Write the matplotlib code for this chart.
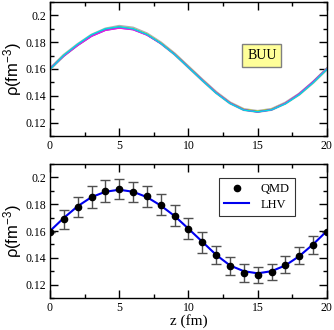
import matplotlib
matplotlib.use('Agg')
import matplotlib.pyplot as plt
from matplotlib.ticker import MultipleLocator
from matplotlib.lines import Line2D

plt.rcParams['mathtext.fontset'] = 'custom'
plt.rcParams['mathtext.rm'] = 'Liberation Sans'
plt.rcParams['mathtext.it'] = 'Liberation Sans'

# data
z = list(range(0, 21))

# BUU runs (top panel), several nearly overlapping curves
buu_gray    = [0.1600, 0.1702, 0.1782, 0.1852, 0.1898, 0.1918, 0.1905, 0.1862, 0.1795, 0.1712, 0.1615, 0.1518, 0.1425, 0.1347, 0.1297, 0.1283, 0.1298, 0.1345, 0.1412, 0.1500, 0.1600]
buu_cyan    = [0.1598, 0.1703, 0.1785, 0.1856, 0.1900, 0.1915, 0.1900, 0.1858, 0.1792, 0.1708, 0.1612, 0.1515, 0.1420, 0.1343, 0.1293, 0.1280, 0.1295, 0.1340, 0.1408, 0.1497, 0.1598]
buu_green   = [0.1602, 0.1700, 0.1780, 0.1850, 0.1895, 0.1912, 0.1898, 0.1857, 0.1791, 0.1710, 0.1614, 0.1517, 0.1423, 0.1346, 0.1296, 0.1282, 0.1297, 0.1343, 0.1410, 0.1500, 0.1603]
buu_yellow  = [0.1600, 0.1701, 0.1781, 0.1851, 0.1896, 0.1913, 0.1900, 0.1859, 0.1794, 0.1712, 0.1616, 0.1519, 0.1424, 0.1347, 0.1298, 0.1284, 0.1299, 0.1344, 0.1411, 0.1499, 0.1600]
buu_magenta = [0.1604, 0.1698, 0.1776, 0.1844, 0.1888, 0.1905, 0.1893, 0.1853, 0.1790, 0.1709, 0.1614, 0.1518, 0.1424, 0.1346, 0.1295, 0.1280, 0.1296, 0.1344, 0.1413, 0.1503, 0.1602]
buu_purple  = [0.1602, 0.1697, 0.1777, 0.1845, 0.1889, 0.1906, 0.1894, 0.1854, 0.1791, 0.1710, 0.1613, 0.1516, 0.1422, 0.1345, 0.1294, 0.1279, 0.1295, 0.1343, 0.1414, 0.1504, 0.1601]

# QMD points with error bars (bottom panel)
qmd     = [0.159, 0.1686, 0.1779, 0.1853, 0.1900, 0.1914, 0.1894, 0.1858, 0.1796, 0.1715, 0.1617, 0.1516, 0.1420, 0.1339, 0.1288, 0.1270, 0.1293, 0.1347, 0.1415, 0.1496, 0.159]
qmd_err = [0.0, 0.0071, 0.0076, 0.0080, 0.0080, 0.0073, 0.0075, 0.0078, 0.0078, 0.0079, 0.0080, 0.0078, 0.0070, 0.0068, 0.0065, 0.0060, 0.0061, 0.0064, 0.0063, 0.0069, 0.0]

# LHV curve
lhv = [0.1600, 0.1698, 0.1785, 0.1853, 0.1893, 0.1908, 0.1893, 0.1853, 0.1790, 0.1712, 0.1617, 0.1520, 0.1422, 0.1343, 0.1300, 0.1284, 0.1300, 0.1343, 0.1412, 0.1500, 0.1600]

serif = 'Liberation Serif'

fig = plt.figure(figsize=(3.34, 3.30), dpi=100)
ax1 = fig.add_axes([0.1497, 0.588, 0.829, 0.406])
ax2 = fig.add_axes([0.1497, 0.097, 0.829, 0.406])

ax1.plot(z, buu_gray, color='#b0b0b0', lw=2.2)
ax1.plot(z, buu_yellow, color='#e8e800', lw=1.0)
ax1.plot(z, buu_green, color='#30c030', lw=1.0)
ax1.plot(z, buu_purple, color='#8a2be2', lw=1.0)
ax1.plot(z, buu_magenta, color='#e020e0', lw=1.0)
ax1.plot(z, buu_cyan, color='#00d8e8', lw=1.0)
ax1.text(15.3, 0.1703, 'BUU', fontfamily=serif, fontsize=10, ha='center', va='center',
         bbox=dict(boxstyle='square,pad=0.35', fc='#ffff99', ec='#808080', lw=1.0))

ax2.errorbar(z, qmd, yerr=qmd_err, fmt='o', color='black', ms=4.5,
             ecolor='#505050', elinewidth=1.0, capsize=3.3, capthick=1.0)
ax2.plot(z, lhv, color='#0000ee', lw=1.5)
handles = [Line2D([], [], ls='none', marker='o', color='black', ms=4.5),
           Line2D([], [], color='#0000ee', lw=1.5)]
leg = ax2.legend(handles, ['QMD', 'LHV'], loc='upper left', bbox_to_anchor=(0.612, 0.895),
                 prop={'family': serif, 'size': 9},
                 frameon=True, fancybox=False, edgecolor='black', handlelength=2.0,
                 borderpad=0.4, labelspacing=0.3, handletextpad=0.9, borderaxespad=0)
leg.get_frame().set_linewidth(0.8)

for ax in (ax1, ax2):
    ax.set_xlim(0, 20)
    ax.set_ylim(0.11, 0.21)
    ax.xaxis.set_major_locator(MultipleLocator(5))
    ax.xaxis.set_minor_locator(MultipleLocator(2.5))
    ax.yaxis.set_major_locator(MultipleLocator(0.02))
    ax.yaxis.set_minor_locator(MultipleLocator(0.01))
    ax.set_yticks([0.12, 0.14, 0.16, 0.18, 0.2])
    ax.set_yticklabels(['0.12', '0.14', '0.16', '0.18', '0.2'])
    ax.tick_params(which='both', direction='in', top=True, right=True, labelsize=8.5, width=1.0)
    ax.tick_params(which='major', length=5.5, pad=3)
    ax.tick_params(which='minor', length=3)
    for lab in ax.get_xticklabels() + ax.get_yticklabels():
        lab.set_fontfamily(serif)
    for s in ax.spines.values():
        s.set_linewidth(1.0)
    ax.set_ylabel('ρ(fm$^{-3}$)', fontfamily='Liberation Sans', fontsize=12, labelpad=1)

ax2.set_xlabel('z (fm)', fontfamily=serif, fontsize=11, labelpad=0)

fig.savefig('out.png', dpi=100)
